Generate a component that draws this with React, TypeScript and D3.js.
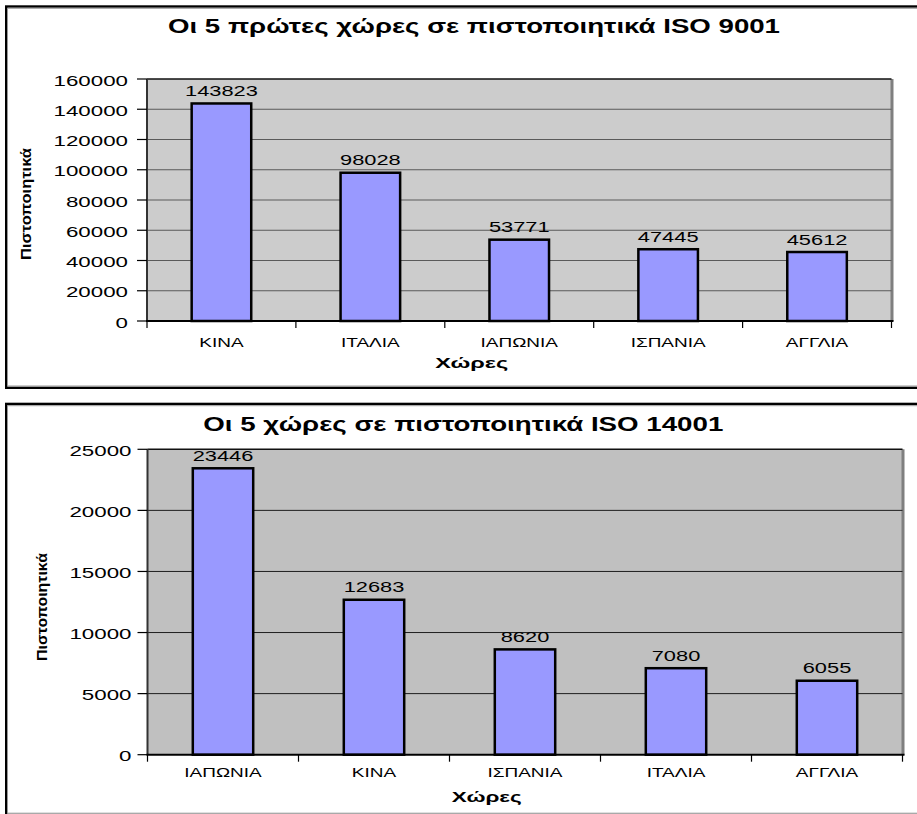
import React from "react";
import * as d3 from "d3";

// ISO 9001 – top five countries
const iso9001Countries = ["ΚΙΝΑ", "ΙΤΑΛΙΑ", "ΙΑΠΩΝΙΑ", "ΙΣΠΑΝΙΑ", "ΑΓΓΛΙΑ"];
const iso9001Values = [143823, 98028, 53771, 47445, 45612];
const iso9001Ticks = [0, 20000, 40000, 60000, 80000, 100000, 120000, 140000, 160000];

// ISO 14001 – top five countries
const iso14001Countries = ["ΙΑΠΩΝΙΑ", "ΚΙΝΑ", "ΙΣΠΑΝΙΑ", "ΙΤΑΛΙΑ", "ΑΓΓΛΙΑ"];
const iso14001Values = [23446, 12683, 8620, 7080, 6055];
const iso14001Ticks = [0, 5000, 10000, 15000, 20000, 25000];

const FONT = "Arial, 'Liberation Sans', Helvetica, sans-serif";
const fmt = d3.format("d");

type Layout = {
  frameTop: number;
  frameBottom: number;
  left: number;
  right: number;
  top: number;
  bottom: number;
  plotFill: string;
  gridColor: string;
  titleX: number;
  titleY: number;
  titleLen: number;
  yTitleX: number;
  yTitleY: number;
  yTitleLen: number;
  tickLabelX: number;
  catY: number;
  xTitleX: number;
  xTitleY: number;
  xTitleLen: number;
};

function WideText(props: {
  x: number;
  y: number;
  size: number;
  sx: number;
  anchor?: string;
  weight?: string;
  children: React.ReactNode;
}) {
  const { x, y, size, sx, anchor = "middle", weight = "normal", children } = props;
  return (
    <text
      transform={`translate(${x},${y}) scale(${sx},1)`}
      fontSize={size}
      fontWeight={weight}
      fontFamily={FONT}
      textAnchor={anchor}
      fill="#000"
    >
      {children}
    </text>
  );
}

function BarChart(props: {
  title: string;
  categories: string[];
  values: number[];
  ticks: number[];
  layout: Layout;
}) {
  const { title, categories, values, ticks, layout: L } = props;
  const maxTick = ticks[ticks.length - 1];

  const x = d3
    .scaleBand<string>()
    .domain(categories)
    .range([L.left, L.right])
    .paddingInner(0.6)
    .paddingOuter(0.3);
  const y = d3.scaleLinear().domain([0, maxTick]).range([L.bottom, L.top]);

  const step = x.step();
  const boundaries = d3.range(categories.length + 1).map((i) => L.left + i * step);

  return (
    <g>
      {/* chart frame */}
      <rect
        x={6.2}
        y={L.frameTop}
        width={940}
        height={L.frameBottom - L.frameTop}
        fill="#fff"
        stroke="#000"
        strokeWidth={2.4}
      />
      <line x1={7.5} x2={917} y1={L.frameTop + 1.8} y2={L.frameTop + 1.8} stroke="#9a9a9a" strokeWidth={1} />
      <line x1={7.5} x2={917} y1={L.frameBottom - 1.8} y2={L.frameBottom - 1.8} stroke="#9a9a9a" strokeWidth={1} />

      {/* title */}
      <text
        x={L.titleX}
        y={L.titleY}
        fontSize={19.5}
        fontWeight="bold"
        fontFamily={FONT}
        textAnchor="middle"
        textLength={L.titleLen}
        lengthAdjust="spacingAndGlyphs"
      >
        {title}
      </text>

      {/* plot area */}
      <rect
        x={L.left}
        y={L.top}
        width={L.right - L.left}
        height={L.bottom - L.top}
        fill={L.plotFill}
      />
      <line x1={L.right + 0.5} x2={L.right + 0.5} y1={L.top} y2={L.bottom} stroke="#7f7f7f" strokeWidth={3} />

      {/* gridlines */}
      {ticks
        .filter((t) => t > 0)
        .map((t) => (
          <line
            key={`g${t}`}
            x1={L.left}
            x2={L.right}
            y1={y(t)}
            y2={y(t)}
            stroke={t === maxTick ? "#111" : L.gridColor}
            strokeWidth={t === maxTick ? 1.5 : 1}
          />
        ))}

      {/* bars */}
      {categories.map((c, i) => (
        <rect
          key={c}
          x={x(c)}
          y={y(values[i])}
          width={x.bandwidth()}
          height={L.bottom - y(values[i])}
          fill="#9999ff"
          stroke="#000"
          strokeWidth={2.5}
        />
      ))}

      {/* value labels */}
      {categories.map((c, i) => (
        <WideText key={`v${c}`} x={(x(c) as number) + x.bandwidth() / 2} y={y(values[i]) - 7.5} size={15.5} sx={1.41}>
          {fmt(values[i])}
        </WideText>
      ))}

      {/* y axis */}
      <line x1={L.left} x2={L.left} y1={L.top} y2={L.bottom} stroke="#333" strokeWidth={2} />
      {ticks.map((t) => (
        <g key={`t${t}`}>
          <line x1={L.left - 10} x2={L.left} y1={y(t)} y2={y(t)} stroke="#000" strokeWidth={1.2} />
          <WideText x={L.tickLabelX} y={y(t) + 6.5} size={15.5} sx={1.44} anchor="end">
            {fmt(t)}
          </WideText>
        </g>
      ))}

      {/* x axis */}
      <line x1={L.left - 1} x2={L.right + 2} y1={L.bottom} y2={L.bottom} stroke="#000" strokeWidth={2} />
      {boundaries.map((bx, i) => (
        <line key={`b${i}`} x1={bx} x2={bx} y1={L.bottom} y2={L.bottom + 7} stroke="#000" strokeWidth={1.2} />
      ))}
      {categories.map((c) => (
        <WideText key={`c${c}`} x={(x(c) as number) + x.bandwidth() / 2} y={L.catY} size={13} sx={1.46}>
          {c}
        </WideText>
      ))}

      {/* axis titles */}
      <text
        x={L.xTitleX}
        y={L.xTitleY}
        fontSize={14.5}
        fontWeight="bold"
        fontFamily={FONT}
        textAnchor="middle"
        textLength={L.xTitleLen}
        lengthAdjust="spacingAndGlyphs"
      >
        Χώρες
      </text>
      <text
        transform={`translate(${L.yTitleX},${L.yTitleY}) rotate(-90)`}
        fontSize={15}
        fontWeight="bold"
        fontFamily={FONT}
        textAnchor="middle"
        textLength={L.yTitleLen}
        lengthAdjust="spacingAndGlyphs"
      >
        Πιστοποιητικά
      </text>
    </g>
  );
}

const layout9001: Layout = {
  frameTop: 6.5,
  frameBottom: 387.8,
  left: 147,
  right: 891.5,
  top: 79,
  bottom: 321,
  plotFill: "#cccccc",
  gridColor: "#5a5a5a",
  titleX: 474,
  titleY: 33,
  titleLen: 612,
  yTitleX: 30.5,
  yTitleY: 204,
  yTitleLen: 112,
  tickLabelX: 128,
  catY: 346.5,
  xTitleX: 471.7,
  xTitleY: 368.3,
  xTitleLen: 73,
};

const layout14001: Layout = {
  frameTop: 403.9,
  frameBottom: 815,
  left: 147.5,
  right: 902.5,
  top: 449.3,
  bottom: 754.7,
  plotFill: "#c0c0c0",
  gridColor: "#1e1e1e",
  titleX: 463.3,
  titleY: 430.5,
  titleLen: 520,
  yTitleX: 47,
  yTitleY: 607,
  yTitleLen: 108,
  tickLabelX: 131.5,
  catY: 777,
  xTitleX: 486.7,
  xTitleY: 801.7,
  xTitleLen: 70,
};

export default function App() {
  return (
    <svg
      width={917}
      height={814}
      viewBox="0 0 917 814"
      style={{ position: "absolute", left: 0, top: 0, background: "#fff" }}
    >
      <BarChart
        title="Οι 5 πρώτες χώρες σε πιστοποιητικά ISO 9001"
        categories={iso9001Countries}
        values={iso9001Values}
        ticks={iso9001Ticks}
        layout={layout9001}
      />
      <BarChart
        title="Οι 5 χώρες σε πιστοποιητικά ISO 14001"
        categories={iso14001Countries}
        values={iso14001Values}
        ticks={iso14001Ticks}
        layout={layout14001}
      />
    </svg>
  );
}
